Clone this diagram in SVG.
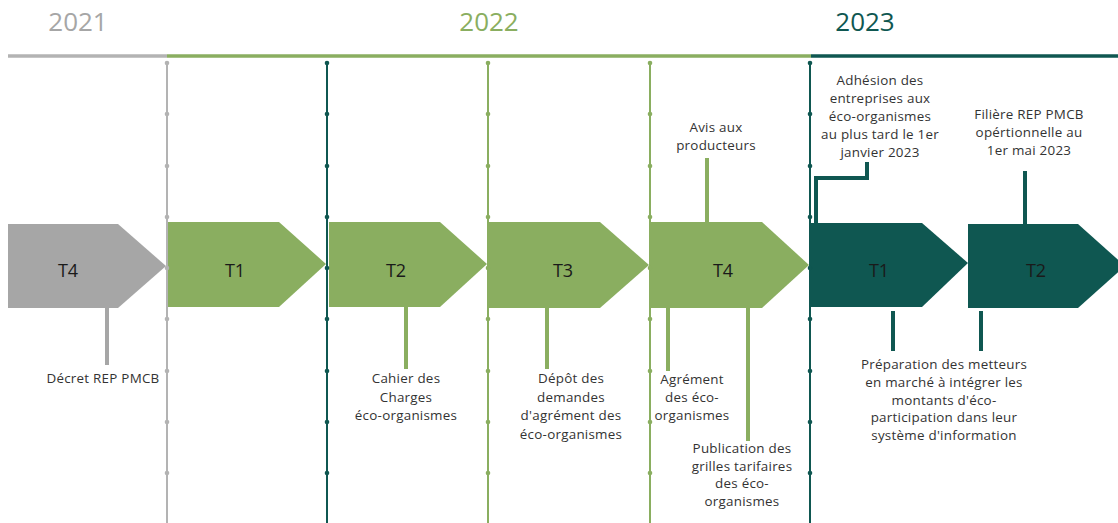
<svg xmlns="http://www.w3.org/2000/svg" width="1118" height="523" viewBox="0 0 1118 523">
<style>
.yr{font-family:"Open Sans","Liberation Sans",sans-serif;font-size:26px;text-anchor:middle}
.q{font-family:"Open Sans","Liberation Sans",sans-serif;font-size:18px;fill:#1a1a1a;text-anchor:middle}
.lb{font-family:"Open Sans","Liberation Sans",sans-serif;font-size:13.4px;letter-spacing:0.25px;fill:#333;text-anchor:middle}
.gray{fill:#a6a6a6}.green{fill:#8aae60}.teal{fill:#0f5751}
.sg{stroke:#a6a6a6}.sgr{stroke:#8aae60}.st{stroke:#0f5751}
.vl{stroke-width:2;fill:none}
.stem{stroke-width:4;fill:none}
</style>
<defs>
<marker id="dotg" markerWidth="6" markerHeight="6" refX="3" refY="3" markerUnits="userSpaceOnUse"><circle cx="3" cy="3" r="2.3" fill="#b3b3b3"/></marker>
<marker id="dotgr" markerWidth="6" markerHeight="6" refX="3" refY="3" markerUnits="userSpaceOnUse"><circle cx="3" cy="3" r="2.3" fill="#8aae60"/></marker>
<marker id="dott" markerWidth="6" markerHeight="6" refX="3" refY="3" markerUnits="userSpaceOnUse"><circle cx="3" cy="3" r="2.3" fill="#0f5751"/></marker>
</defs>

<g id="years">
<text class="yr" x="78" y="31" fill="#a6a6a6">2021</text>
<text class="yr" x="489" y="31" fill="#8aae60">2022</text>
<text class="yr" x="865" y="31" fill="#0f5751">2023</text>
</g>

<g id="timeline">
<line x1="8" y1="56" x2="167" y2="56" stroke="#b3b3b3" stroke-width="3.5"/>
<line x1="167" y1="56" x2="811" y2="56" stroke="#8aae60" stroke-width="3.5"/>
<line x1="811" y1="56" x2="1118" y2="56" stroke="#0f5751" stroke-width="3.5"/>
</g>

<g id="q-2021-t4">
<polygon class="gray" points="8,224 118,224 166,266 118,308 8,308"/>
<text class="q" x="68" y="277">T4</text>
</g>
<g id="q-2022-t1">
<polygon class="green" points="168,222 279,222 326,264 279,307 168,307"/>
<text class="q" x="235" y="277">T1</text>
</g>
<g id="q-2022-t2">
<polygon class="green" points="329,222 440,222 487,264 440,307 329,307"/>
<text class="q" x="396" y="277">T2</text>
</g>
<g id="q-2022-t3">
<polygon class="green" points="489,222 600,222 649,265 600,308 489,308"/>
<text class="q" x="563" y="277">T3</text>
</g>
<g id="q-2022-t4">
<polygon class="green" points="651,222 762,222 809,265 762,308 651,308"/>
<text class="q" x="723" y="277">T4</text>
</g>
<g id="q-2023-t1">
<polygon class="teal" points="811,223 922,223 968,263 922,307 811,307"/>
<text class="q" x="879" y="277">T1</text>
</g>
<g id="q-2023-t2">
<polygon class="teal" points="968,224 1078,224 1125,266 1078,308 968,308"/>
<text class="q" x="1036" y="277">T2</text>
</g>

<g id="connectors">
<polyline class="vl" stroke="#b3b3b3" points="167,63 167,114 167,166 167,217 167,268 167,319 167,371 167,422 167,473 167,523" marker-start="url(#dotg)" marker-mid="url(#dotg)"/>
<polyline class="vl" stroke="#0f5751" points="327,63 327,114 327,166 327,217 327,268 327,319 327,371 327,422 327,473 327,523" marker-start="url(#dott)" marker-mid="url(#dott)"/>
<polyline class="vl" stroke="#8aae60" points="488,63 488,114 488,166 488,217 488,268 488,319 488,371 488,422 488,473 488,523" marker-start="url(#dotgr)" marker-mid="url(#dotgr)"/>
<polyline class="vl" stroke="#8aae60" points="650,63 650,114 650,166 650,217 650,268 650,319 650,371 650,422 650,473 650,523" marker-start="url(#dotgr)" marker-mid="url(#dotgr)"/>
<polyline class="vl" stroke="#0f5751" points="810,63 810,114 810,166 810,217 810,268 810,319 810,371 810,422 810,473 810,523" marker-start="url(#dott)" marker-mid="url(#dott)"/>

<line class="stem sg" x1="107" y1="308" x2="107" y2="365"/>
<line class="stem sgr" x1="406" y1="307" x2="406" y2="369"/>
<line class="stem sgr" x1="547" y1="308" x2="547" y2="369"/>
<line class="stem sgr" x1="707" y1="158" x2="707" y2="222"/>
<line class="stem sgr" x1="668" y1="308" x2="668" y2="371"/>
<line class="stem sgr" x1="748" y1="308" x2="748" y2="441"/>
<polyline class="stem st" points="867,162 867,178 816,178 816,223"/>
<line class="stem st" x1="1025" y1="171" x2="1025" y2="224"/>
<line class="stem st" x1="893" y1="311" x2="893" y2="351"/>
<line class="stem st" x1="981" y1="311" x2="981" y2="351"/>
</g>

<g id="label-decret"><text class="lb" x="103" y="383">Décret REP PMCB</text></g>
<g id="label-cahier"><text class="lb" y="383"><tspan x="406">Cahier des</tspan><tspan x="406" dy="18.5">Charges</tspan><tspan x="406" dy="18.5">éco-organismes</tspan></text></g>
<g id="label-depot"><text class="lb" y="383"><tspan x="571">Dépôt des</tspan><tspan x="571" dy="18.5">demandes</tspan><tspan x="571" dy="18.5">d'agrément des</tspan><tspan x="571" dy="18.5">éco-organismes</tspan></text></g>
<g id="label-avis"><text class="lb" y="132"><tspan x="716">Avis aux</tspan><tspan x="716" dy="18">producteurs</tspan></text></g>
<g id="label-agrement"><text class="lb" y="384"><tspan x="692">Agrément</tspan><tspan x="692" dy="18">des éco-</tspan><tspan x="692" dy="18">organismes</tspan></text></g>
<g id="label-publication"><text class="lb" y="453"><tspan x="742">Publication des</tspan><tspan x="742" dy="17.5">grilles tarifaires</tspan><tspan x="742" dy="17.5">des éco-</tspan><tspan x="742" dy="17.5">organismes</tspan></text></g>
<g id="label-adhesion"><text class="lb" y="85"><tspan x="880">Adhésion des</tspan><tspan x="880" dy="18">entreprises aux</tspan><tspan x="880" dy="18">éco-organismes</tspan><tspan x="880" dy="18">au plus tard le 1er</tspan><tspan x="880" dy="18">janvier 2023</tspan></text></g>
<g id="label-filiere"><text class="lb" y="119"><tspan x="1029">Filière REP PMCB</tspan><tspan x="1029" dy="18">opértionnelle au</tspan><tspan x="1029" dy="18">1er mai 2023</tspan></text></g>
<g id="label-preparation"><text class="lb" y="369"><tspan x="944">Préparation des metteurs</tspan><tspan x="944" dy="17.8">en marché à intégrer les</tspan><tspan x="944" dy="17.8">montants d'éco-</tspan><tspan x="944" dy="17.8">participation dans leur</tspan><tspan x="944" dy="17.8">système d'information</tspan></text></g>
</svg>
